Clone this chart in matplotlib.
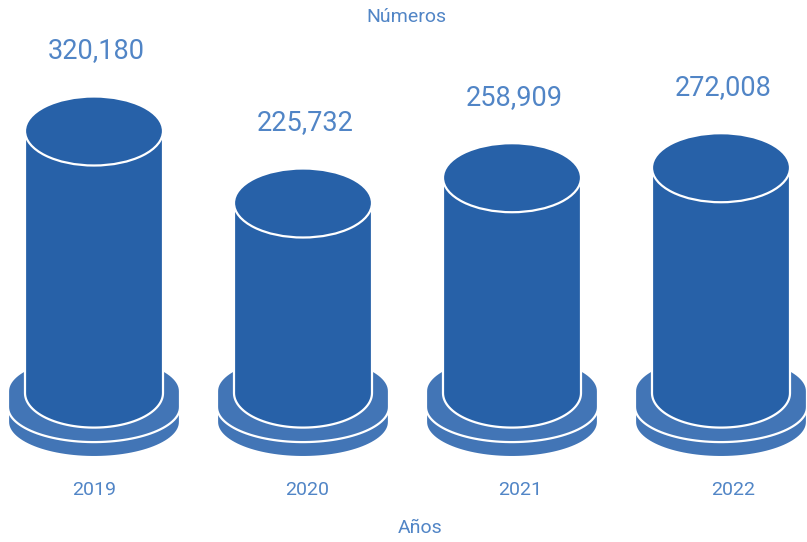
import numpy as np
import matplotlib.pyplot as plt
from matplotlib.patches import Polygon, Ellipse

plt.rcParams['font.family'] = ['Roboto', 'DejaVu Sans']

# datos
years = ['2019', '2020', '2021', '2022']
values = [320180, 225732, 258909, 272008]
labels = ['320,180', '225,732', '258,909', '272,008']

body_color = '#2761A8'
base_color = '#4275B6'
text_color = '#5185C6'

# escala: px por unidad (1 categoria = 209 px, 1 px = 1312 unidades)
UX = 1 / 209.0
UY = 1312.0

fig = plt.figure(figsize=(8.07, 5.42), dpi=100)
ax = fig.add_axes([0, 0, 1, 1])
ax.set_xlim(-94 * UX, (807 - 94) * UX)
ax.set_ylim(-218963, 492024)
ax.axis('off')

base_level = -18 * UY      # centro de la elipse inferior del cilindro
body_a = 69 * UX
body_b = 34.5 * UY
disc_a = 86 * UX
disc_b = 35 * UY


def half_ellipse(xc, yc, a, b, lower=True):
    t = np.linspace(np.pi, 2 * np.pi, 60) if lower else np.linspace(0, np.pi, 60)
    return np.c_[xc + a * np.cos(t), yc + b * np.sin(t)]


def solid(xc, y_bot, y_top, a, b, color, z):
    # contorno: media elipse inferior + media elipse superior
    pts = np.vstack([half_ellipse(xc, y_bot, a, b, True),
                     half_ellipse(xc, y_top, a, b, False)])
    ax.add_patch(Polygon(pts, closed=True, facecolor=color, edgecolor='white',
                         lw=1.6, zorder=z))


for i, v in enumerate(values):
    # discos de la base
    solid(i, base_level - 29 * UY, base_level - 12 * UY, disc_a, disc_b, base_color, 1)
    solid(i, base_level - 14 * UY, base_level + 2 * UY, disc_a, disc_b, base_color, 2)
    # cuerpo
    solid(i, base_level, v, body_a, body_b, body_color, 3)
    ax.add_patch(Ellipse((i, v), 2 * body_a, 2 * body_b, facecolor=body_color,
                         edgecolor='white', lw=1.6, zorder=4))
    ax.text(i + 2 * UX, v + 80 * UY, labels[i], ha='center', va='center',
            fontsize=19.5, color=text_color)
    ax.text(i * 1.02, (375 - 489.5) * UY, years[i], ha='center', va='center',
            fontsize=14, color=text_color)

fig.text(406 / 807, 1 - 17 / 542, 'Números', ha='center', va='center',
         fontsize=14, color=text_color)
fig.text(420 / 807, 1 - 528 / 542, 'Años', ha='center', va='center',
         fontsize=14, color=text_color)

fig.savefig('out.png', dpi=100)
